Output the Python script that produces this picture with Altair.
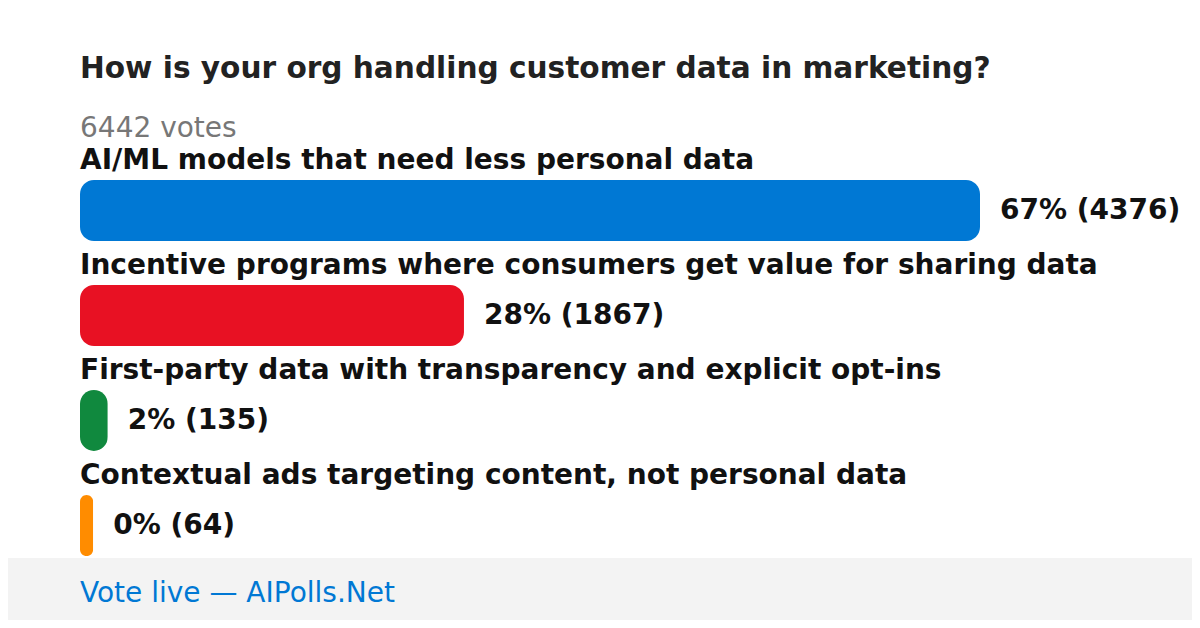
import altair as alt
import pandas as pd

title_text = "How is your org handling customer data in marketing?"
total_votes = 6442
footer_text = "Vote live \u2014 AIPolls.Net"

options = [
    "AI/ML models that need less personal data",
    "Incentive programs where consumers get value for sharing data",
    "First-party data with transparency and explicit opt-ins",
    "Contextual ads targeting content, not personal data",
]
votes = [4376, 1867, 135, 64]
pcts = [67, 28, 2, 0]
colors = ["#0078d4", "#e81123", "#10893e", "#ff8c00"]

df = pd.DataFrame({
    "option": options,
    "votes": votes,
    "idx": list(range(len(options))),
    "value_label": [f"{p}% ({v})" for p, v in zip(pcts, votes)],
})

W, H = 1184, 612
FONT = "DejaVu Sans"

xscale = alt.Scale(domain=[0, max(votes)], range=[72, 972], nice=False, zero=True)
yscale = alt.Scale(domain=[0, len(options) - 1], range=[202.5, 517.5],
                   nice=False, zero=False, padding=0)

base = alt.Chart(df)

bars = base.mark_bar(orient="horizontal", size=61, cornerRadius=14).encode(
    x=alt.X("votes:Q", scale=xscale, axis=None),
    y=alt.Y("idx:Q", scale=yscale, axis=None),
    color=alt.Color("option:N", scale=alt.Scale(domain=options, range=colors), legend=None),
)

labels = base.transform_calculate(start="0").mark_text(
    align="left", baseline="alphabetic", dy=-41.5,
    font=FONT, fontSize=28, fontWeight="bold", color="#111111",
).encode(
    x=alt.X("start:Q", scale=xscale, axis=None),
    y=alt.Y("idx:Q", scale=yscale, axis=None),
    text="option:N",
)

values = base.mark_text(
    align="left", baseline="middle", dx=20,
    font=FONT, fontSize=28, fontWeight="bold", color="#111111",
).encode(
    x=alt.X("votes:Q", scale=xscale, axis=None),
    y=alt.Y("idx:Q", scale=yscale, axis=None),
    text="value_label:N",
)

title = alt.Chart(pd.DataFrame({"t": [title_text]})).mark_text(
    align="left", baseline="alphabetic", font=FONT, fontSize=29.6,
    fontWeight="bold", color="#222222",
).encode(x=alt.value(72), y=alt.value(70), text="t:N")

sub = alt.Chart(pd.DataFrame({"t": [f"{total_votes} votes"]})).mark_text(
    align="left", baseline="alphabetic", font=FONT, fontSize=28, color="#777777",
).encode(x=alt.value(72), y=alt.value(129), text="t:N")

footer_bg = alt.Chart(pd.DataFrame({"t": [1]})).mark_rect(color="#f3f3f3").encode(
    x=alt.value(-8), x2=alt.value(W), y=alt.value(550), y2=alt.value(H)
)

footer = alt.Chart(pd.DataFrame({"t": [footer_text]})).mark_text(
    align="left", baseline="alphabetic", font=FONT, fontSize=28, color="#0078d4",
).encode(x=alt.value(72), y=alt.value(594), text="t:N")

chart = alt.layer(footer_bg, bars, labels, values, title, sub, footer).properties(
    width=W, height=H, padding=0, autosize=alt.AutoSizeParams(type="none"),
).configure_view(strokeWidth=0)

chart.save("out.html", embed_options={"renderer": "svg", "actions": False})
